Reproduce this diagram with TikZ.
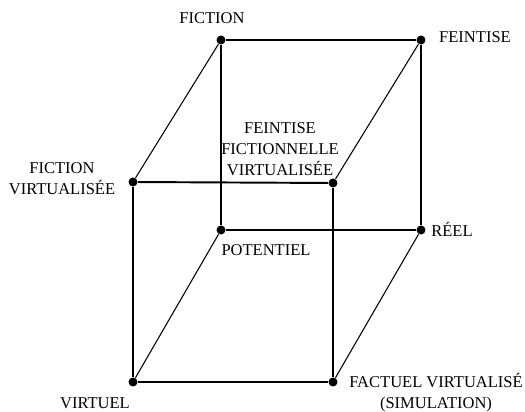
\documentclass[tikz,border=0pt]{standalone}
\usepackage{fontspec}
\setmainfont{Liberation Serif}
\usetikzlibrary{positioning}
\tikzset{
  dot/.style={circle,fill=black,inner sep=0pt,minimum size=0.18cm},
  edge/.style={line width=1.1pt},
  slant/.style={line width=0.6pt},
  lbl/.style={inner sep=0pt,align=center,font=\fontsize{9.4}{11.9}\selectfont}
}

\begin{document}
\begin{tikzpicture}[x=0.02cm,y=-0.02cm]
  \useasboundingbox (0,0) rectangle (525,412);
  % corners of the cube
  \node[dot] (fic) at (221,40) {};
  \node[dot] (fei) at (421,40) {};
  \node[dot] (ficv) at (133,182) {};
  \node[dot] (feiv) at (333,183) {};
  \node[dot] (pot) at (221,230) {};
  \node[dot] (ree) at (421,230) {};
  \node[dot] (vir) at (133,382) {};
  \node[dot] (fac) at (333,382) {};

  % labels
  \node[lbl] (lfic) at (212,18.5) {FICTION};
  \node[lbl] (lfei) at (475,37) {FEINTISE};
  \node[lbl] (lficv) at (62,179) {FICTION\\VIRTUALIS\'EE};
  \node[lbl] (lfeiv) at (280,149.5) {FEINTISE\\FICTIONNELLE\\VIRTUALIS\'EE};
  \node[lbl] (lpot) at (266,250) {POTENTIEL};
  \node[lbl] (lree) at (452,229.5) {R\'EEL};
  \node[lbl] (lvir) at (95,403.5) {VIRTUEL};
  \node[lbl] (lfac) at (436,393) {FACTUEL VIRTUALIS\'E\\(SIMULATION)};

  % back and front faces
  \draw[edge](fic)--(fei);
  \draw[edge](fic)--(pot);
  \draw[edge](fei)--(ree);
  \draw[edge](pot)--(ree);
  \draw[edge](ficv)--(feiv);
  \draw[edge](ficv)--(vir);
  \draw[edge](feiv)--(fac);
  \draw[edge](vir)--(fac);

  % slanted edges
  \draw[slant](fic)--(ficv);
  \draw[slant](fei)--(feiv);
  \draw[slant](pot)--(vir);
  \draw[slant](ree)--(fac);
\end{tikzpicture}
\end{document}
